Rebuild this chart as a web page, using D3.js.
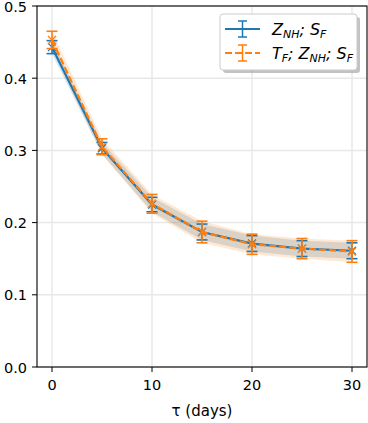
<!DOCTYPE html>
<html><head><meta charset="utf-8">
<script src="https://cdn.jsdelivr.net/npm/d3@7"></script>
<style>body{margin:0;background:#fff}svg{display:block}text{font-family:"DejaVu Sans",sans-serif}</style>
</head><body><svg id="c" width="368" height="423"></svg>
<script>
const tau = [0,5,10,15,20,25,30];
const blueMean = [0.443,0.303,0.225,0.187,0.171,0.164,0.161];
const blueErr  = [0.009,0.008,0.010,0.011,0.011,0.011,0.011];
const orangeMean = [0.453,0.305,0.226,0.187,0.170,0.164,0.160];
const orangeErr  = [0.012,0.011,0.013,0.015,0.014,0.014,0.015];
const xTicks = [0,10,20,30];
const yTicks = [0.0,0.1,0.2,0.3,0.4,0.5];

const svg = d3.select("#c");
const L=37,R=367,T=6,B=367;
const x = d3.scaleLinear().domain([-1.5,31.5]).range([L,R]);
const y = d3.scaleLinear().domain([0,0.5]).range([B,T]);
const blue="#1f77b4", orange="#ff7f0e";

// grid
svg.append("g").selectAll("line").data(xTicks).join("line")
  .attr("x1",d=>x(d)).attr("x2",d=>x(d)).attr("y1",T).attr("y2",B)
  .attr("stroke","#e8e8e8").attr("stroke-width",1.5);
svg.append("g").selectAll("line").data(yTicks).join("line")
  .attr("y1",d=>y(d)).attr("y2",d=>y(d)).attr("x1",L).attr("x2",R)
  .attr("stroke","#e8e8e8").attr("stroke-width",1.5);

const blueData = tau.map((t,i)=>({t,m:blueMean[i],e:blueErr[i]}));
const orangeData = tau.map((t,i)=>({t,m:orangeMean[i],e:orangeErr[i]}));
const area = d3.area().x(d=>x(d.t)).y0(d=>y(d.m-d.e)).y1(d=>y(d.m+d.e));
svg.append("path").datum(blueData).attr("d",area).attr("fill",blue).attr("fill-opacity",0.2);
svg.append("path").datum(orangeData).attr("d",area).attr("fill",orange).attr("fill-opacity",0.18);

const line = d3.line().x(d=>x(d.t)).y(d=>y(d.m));
function series(data,color,dash){
  const g=svg.append("g");
  g.append("path").datum(data).attr("d",line).attr("fill","none").attr("stroke",color)
    .attr("stroke-width",2.2).attr("stroke-dasharray",dash||null);
  g.selectAll(".eb").data(data).join("g").each(function(d){
    const s=d3.select(this), cx=x(d.t);
    s.append("line").attr("x1",cx).attr("x2",cx).attr("y1",y(d.m-d.e)).attr("y2",y(d.m+d.e)).attr("stroke",color).attr("stroke-width",1.6);
    [d.m-d.e,d.m+d.e].forEach(v=>s.append("line").attr("x1",cx-5.5).attr("x2",cx+5.5).attr("y1",y(v)).attr("y2",y(v)).attr("stroke",color).attr("stroke-width",1.6));
    const cy=y(d.m);
    s.append("path").attr("d",`M${cx-4},${cy-4}L${cx+4},${cy+4}M${cx-4},${cy+4}L${cx+4},${cy-4}`).attr("stroke",color).attr("stroke-width",1.3);
  });
}
series(blueData,blue);
series(orangeData,orange,"7,3");

// axes spines
svg.append("rect").attr("x",L).attr("y",T).attr("width",R-L).attr("height",B-T).attr("fill","none").attr("stroke","#000").attr("stroke-width",1.1);
// ticks
svg.append("g").selectAll("line").data(xTicks).join("line").attr("x1",d=>x(d)).attr("x2",d=>x(d)).attr("y1",B).attr("y2",B+5).attr("stroke","#000");
svg.append("g").selectAll("text").data(xTicks).join("text").attr("x",d=>x(d)).attr("y",B+23).attr("text-anchor","middle").attr("font-size",14.5).text(d=>d);
svg.append("g").selectAll("line").data(yTicks).join("line").attr("y1",d=>y(d)).attr("y2",d=>y(d)).attr("x1",L-5).attr("x2",L).attr("stroke","#000");
svg.append("g").selectAll("text").data(yTicks).join("text").attr("x",L-10).attr("y",d=>y(d)+5.5).attr("text-anchor","end").attr("font-size",14.5).text(d=>d.toFixed(1));
svg.append("text").attr("x",(L+R)/2).attr("y",416).attr("text-anchor","middle").attr("font-size",15).text("τ (days)");

// legend
const lg=svg.append("g").attr("transform","translate(220,14)");
lg.append("rect").attr("x",3).attr("y",3).attr("width",137).attr("height",56).attr("rx",3).attr("fill","#888").attr("fill-opacity",0.5);
lg.append("rect").attr("width",137).attr("height",56).attr("rx",3).attr("fill","#fff").attr("stroke","#ccc");
const entries=[{c:blue,d:null,parts:[["Z",""],["NH","sub"],["; S",""],["F","sub"]]},
               {c:orange,d:"7,3",parts:[["T",""],["F","sub"],["; Z",""],["NH","sub"],["; S",""],["F","sub"]]}];
entries.forEach((e,i)=>{
  const cy=15+i*24;
  lg.append("line").attr("x1",5).attr("x2",40).attr("y1",cy).attr("y2",cy).attr("stroke",e.c).attr("stroke-width",2).attr("stroke-dasharray",e.d);
  lg.append("line").attr("x1",22.5).attr("x2",22.5).attr("y1",cy-8).attr("y2",cy+8).attr("stroke",e.c).attr("stroke-width",1.5);
  [cy-8,cy+8].forEach(v=>lg.append("line").attr("x1",18).attr("x2",27).attr("y1",v).attr("y2",v).attr("stroke",e.c).attr("stroke-width",1.5));
  const t=lg.append("text").attr("x",52).attr("y",cy+6).attr("font-size",16).attr("font-style","italic");
  e.parts.forEach((p,j)=>{
    const prev=j>0?e.parts[j-1]:null;
    const ts=t.append("tspan").text(p[0]);
    if(p[1]==="sub") ts.attr("font-size",11).attr("dy",3);
    else if(prev && prev[1]==="sub") ts.attr("dy",-3);
  });
});
</script></body></html>
